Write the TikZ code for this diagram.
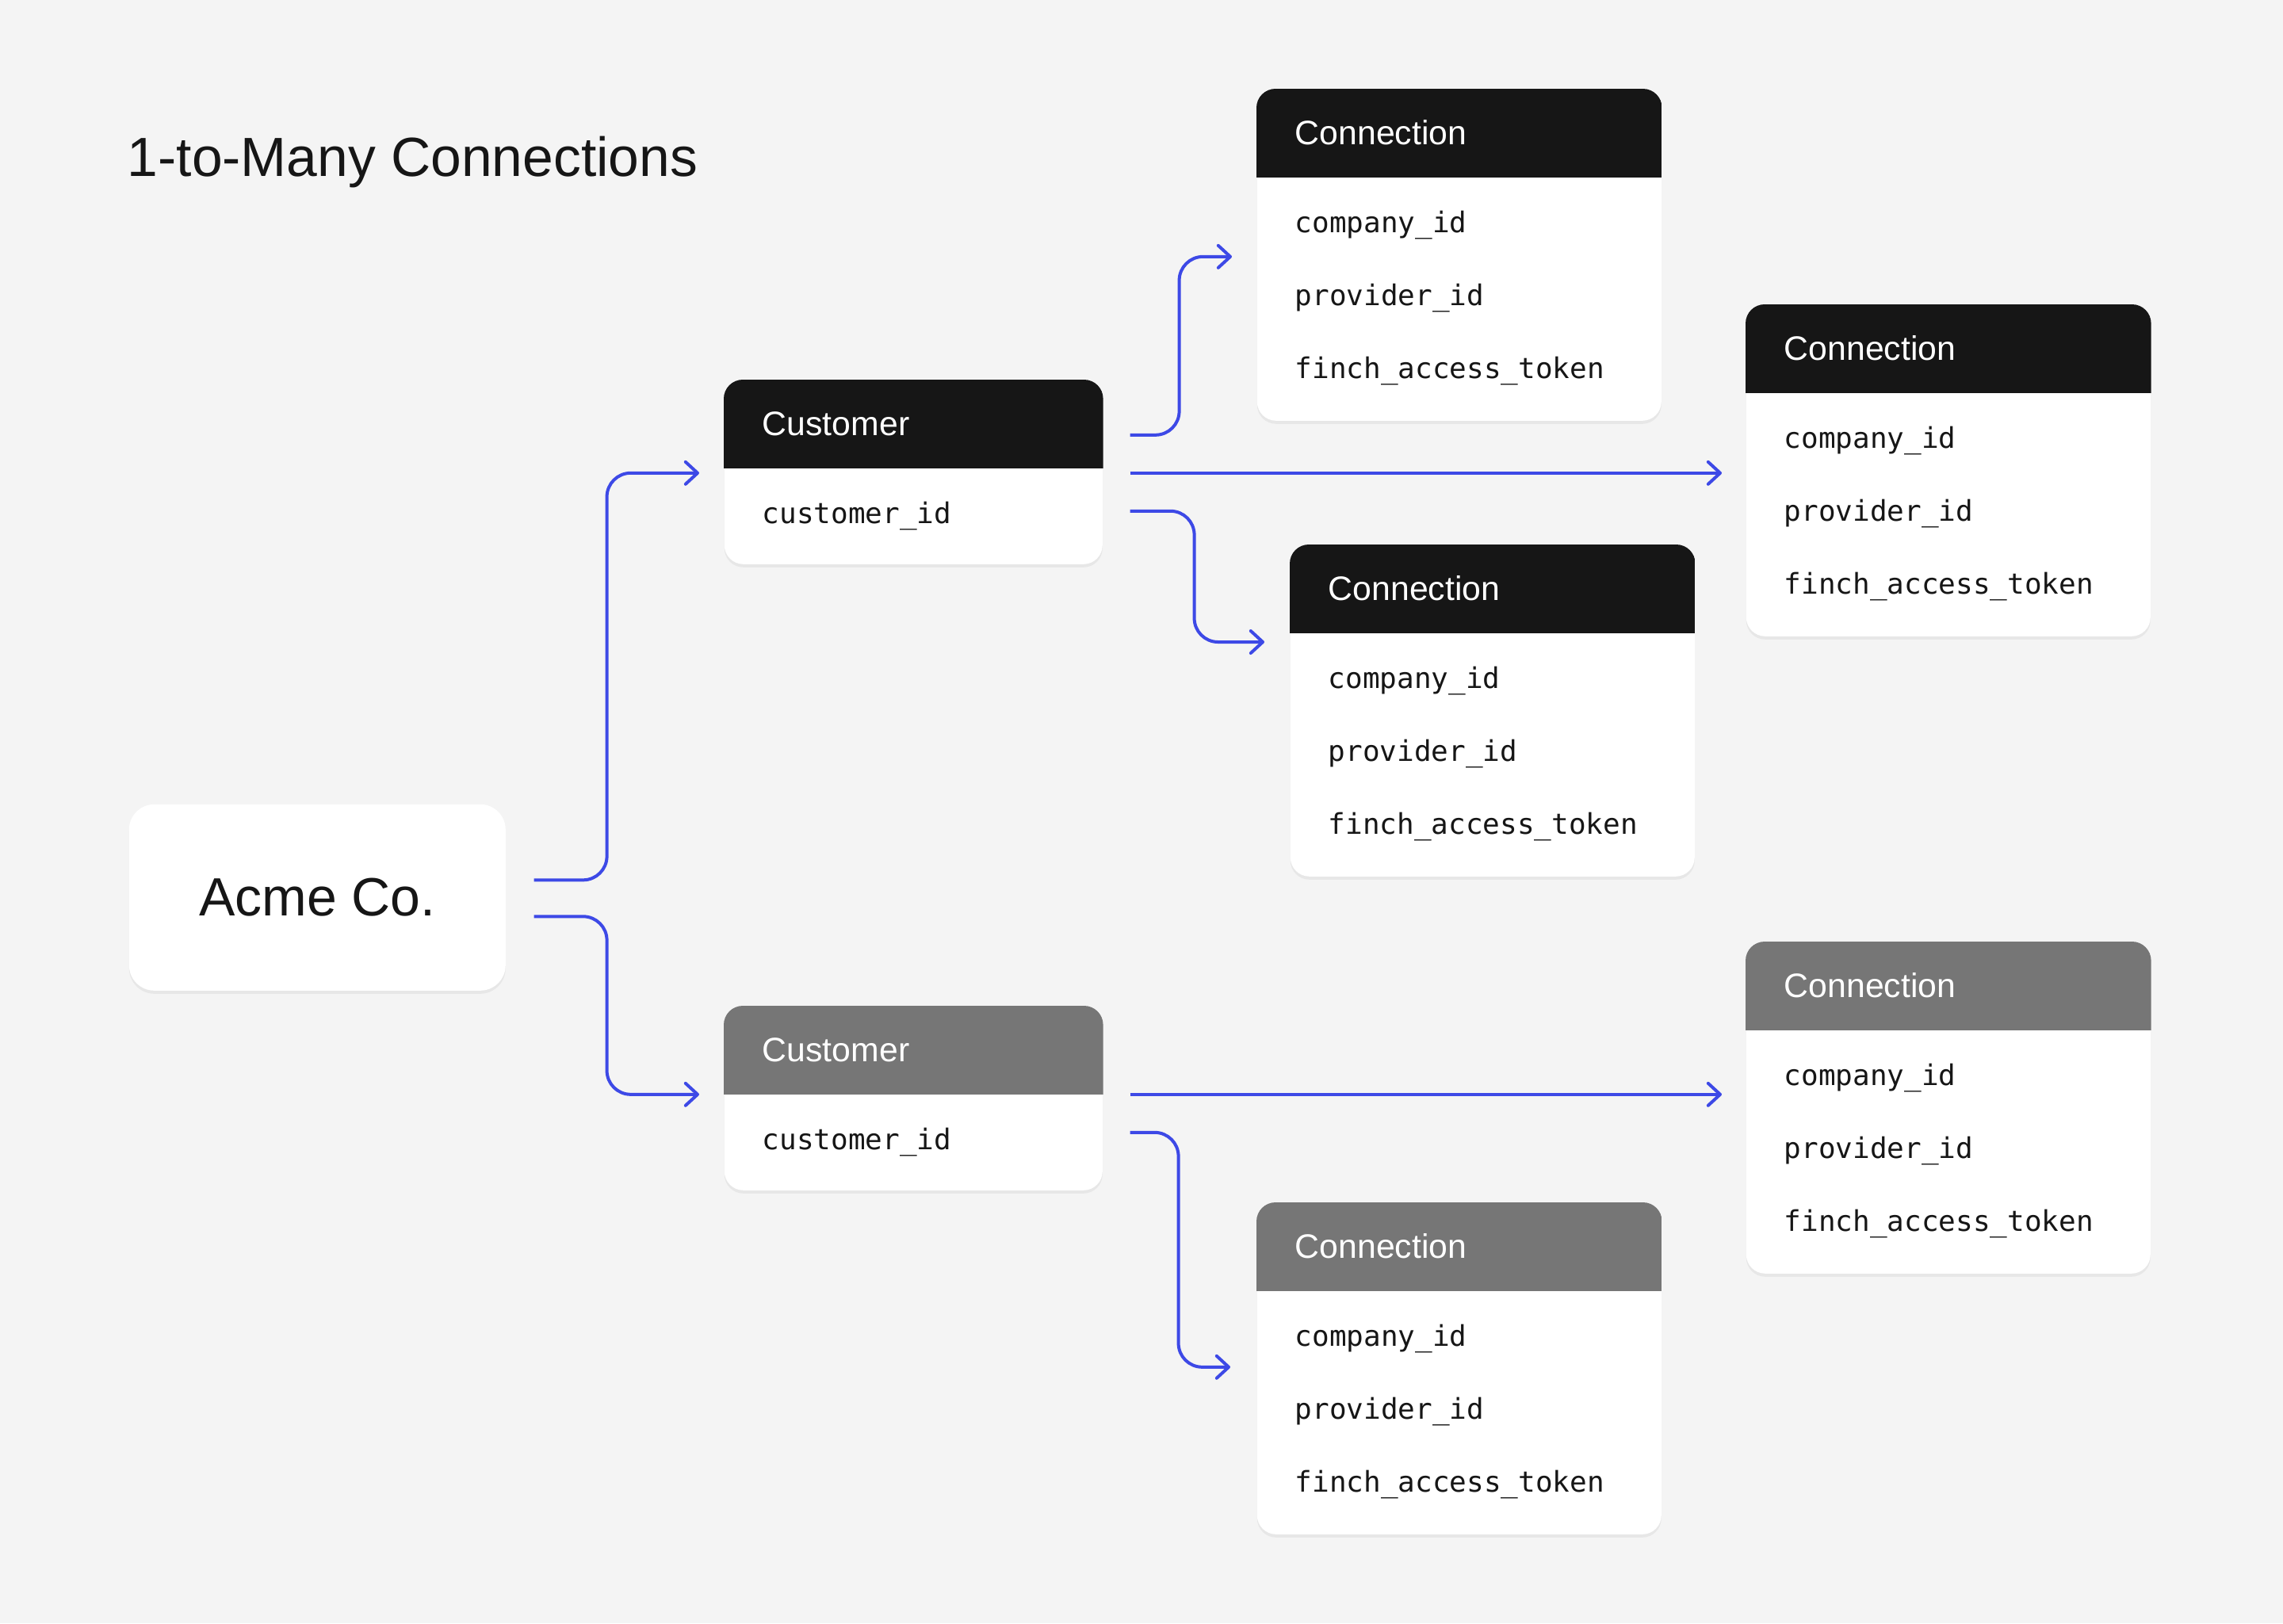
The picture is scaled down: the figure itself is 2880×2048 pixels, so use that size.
\documentclass[tikz,border=0pt]{standalone}
\usepackage{fontspec}
\setmainfont{Liberation Sans}
\newfontfamily\monof{DejaVu Sans Mono}
\usetikzlibrary{calc,arrows.meta,shadows}
\definecolor{bg}{HTML}{F4F4F4}
\definecolor{ink}{HTML}{161616}
\definecolor{hdark}{HTML}{161616}
\definecolor{hgray}{HTML}{767676}
\definecolor{link}{HTML}{3D49E6}
\def\u{0.25pt}
\tikzset{
  bodybox/.style={anchor=north west, fill=white, rounded corners=6pt, inner sep=0pt,
    drop shadow={shadow xshift=0pt, shadow yshift=-1pt, opacity=0.05, fill=black}},
  hdrtxt/.style={anchor=base west, inner sep=0pt, text=white, font=\fontsize{10.7}{12}\selectfont},
  fieldtxt/.style={anchor=base west, inner sep=0pt, text=ink, font=\monof\fontsize{9}{11}\selectfont},
  conn/.style={draw=link, line width=1pt, rounded corners=7.5pt,
    -{Straight Barb[length=3.8pt, width=7pt, round]}}
}
\newcommand\dbtable[8]{%
  \node[bodybox, minimum width=#4*\u, minimum height=#5*\u] (#1) at (#2,#3) {};
  \begin{scope}
    \clip[rounded corners=6pt] (#1.north west) rectangle (#1.south east);
    \fill[#6] (#1.north west) rectangle ($(#1.north east)+(0,112)$);
  \end{scope}
  \node[hdrtxt] (#1-title) at ($(#1.north west)+(48,70)$) {#7};
  \foreach \fld [count=\i] in {#8}
    \node[fieldtxt] (#1-f\i) at ($(#1.north west)+(48,89+92*\i)$) {\fld};
}
\begin{document}
\begin{tikzpicture}[x=0.25pt, y=-0.25pt]
  \fill[bg] (0,0) rectangle (2880,2048);
  \useasboundingbox (0,0) rectangle (2880,2048);

  \node[anchor=base west, inner sep=0pt, text=ink, font=\fontsize{17.4}{20}\selectfont]
    (title) at (160,222) {1-to-Many Connections};

  \node[bodybox, rounded corners=8pt, minimum width=475*\u, minimum height=235*\u,
    text=ink, font=\fontsize{17}{20}\selectfont] (acme) at (162,1014) {Acme Co.};

  \dbtable{cust1}{913}{479}{477}{232}{hdark}{Customer}{customer\_id}
  \dbtable{cust2}{913}{1269}{477}{232}{hgray}{Customer}{customer\_id}

  \dbtable{connA}{1585}{112}{510}{418}{hdark}{Connection}{company\_id,provider\_id,finch\_access\_token}
  \dbtable{connB}{2202}{384}{510}{418}{hdark}{Connection}{company\_id,provider\_id,finch\_access\_token}
  \dbtable{connC}{1627}{687}{510}{418}{hdark}{Connection}{company\_id,provider\_id,finch\_access\_token}
  \dbtable{connD}{2202}{1188}{510}{418}{hgray}{Connection}{company\_id,provider\_id,finch\_access\_token}
  \dbtable{connE}{1585}{1517}{510}{418}{hgray}{Connection}{company\_id,provider\_id,finch\_access\_token}

  \draw[conn] ($(acme.east)+(35,-22)$) -- ++(92,0) |- ($(cust1.west)+(-31,1)$);
  \draw[conn] ($(acme.east)+(35,24)$) -- ++(92,0) |- ($(cust2.west)+(-31,-5)$);

  \draw[conn] ($(cust1.east)+(34,-47)$) -- ++(62,0) |- ($(connA.west)+(-31,2)$);
  \draw[conn] ($(cust1.east)+(34,1)$) -- ($(cust1.east -| connB.west)+(-30,1)$);
  \draw[conn] ($(cust1.east)+(34,49)$) -- ++(81,0) |- ($(connC.north west)+(-32,123)$);

  \draw[conn] ($(cust2.east)+(34,-5)$) -- ($(cust2.east -| connD.west)+(-30,-5)$);
  \draw[conn] ($(cust2.east)+(34,43)$) -- ++(61,0) |- ($(connE.west)+(-33,-2)$);
\end{tikzpicture}
\end{document}
